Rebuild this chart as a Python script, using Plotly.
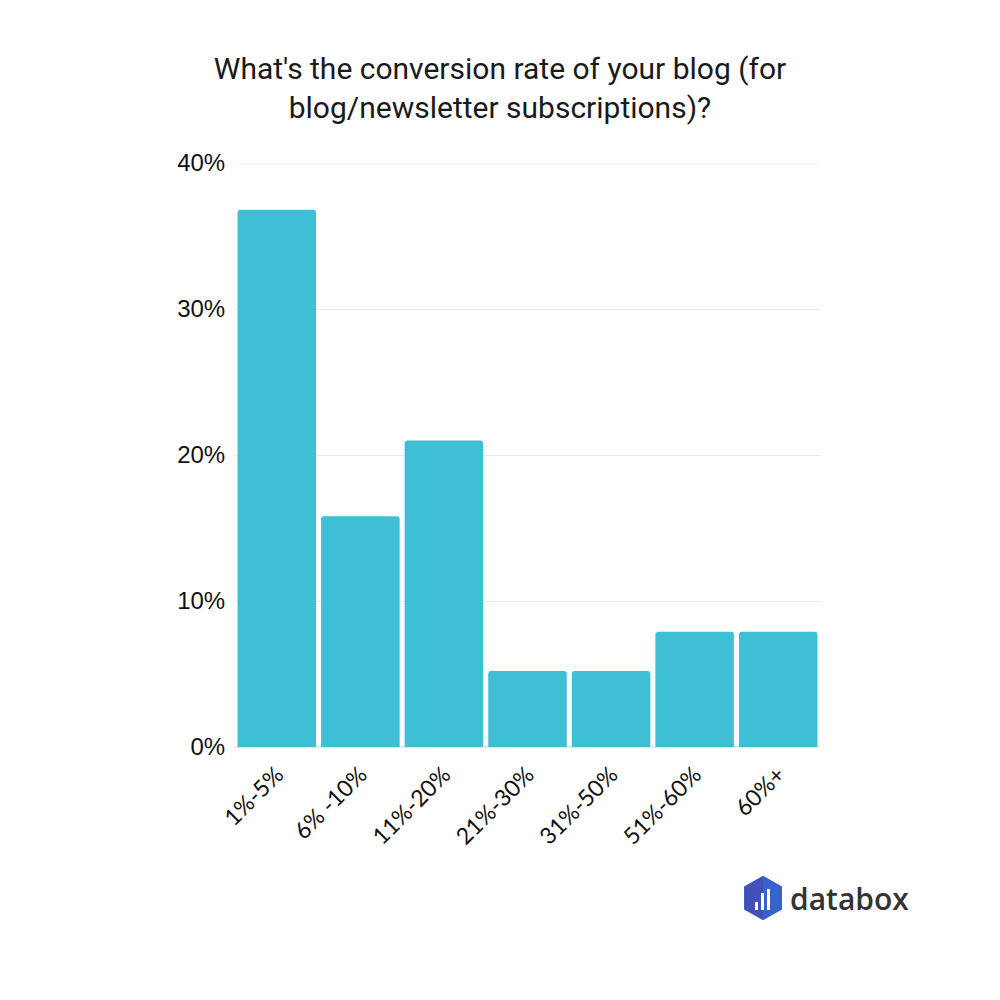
import plotly.graph_objects as go

categories = ["1%-5%", "6% -10%", "11%-20%", "21%-30%", "31%-50%", "51%-60%", "60%+"]
values = [36.8, 15.8, 21.0, 5.2, 5.2, 7.9, 7.9]
tick_vals = [0, 10, 20, 30, 40]
tick_text = ["0%", "10%", "20%", "30%", "40%"]

L, R, T, B = 235, 820, 163, 747

fig = go.Figure(go.Bar(
    x=categories, y=values,
    marker=dict(color="#3EBFD4", line=dict(width=0)),
    hoverinfo="skip",
))

def px(x):
    return (x - L) / (R - L)

def py(y):
    return (B - y) / (B - T)

# databox logo hexagon
hx = [(763, 877), (781, 887), (781, 909), (763, 919), (745, 909), (745, 887)]
path = "M " + " L ".join(f"{px(a):.5f},{py(b):.5f}" for a, b in hx) + " Z"
shapes = [dict(type="path", xref="paper", yref="paper", path=path,
               fillcolor="#3563C9", line=dict(color="#3563C9", width=2))]
hxl = [(763, 877), (745, 887), (745, 909), (763, 919)]
pathl = "M " + " L ".join(f"{px(a):.5f},{py(b):.5f}" for a, b in hxl) + " Z"
shapes.append(dict(type="path", xref="paper", yref="paper", path=pathl,
                   fillcolor="#4450B8", line=dict(width=0)))
for (x0, y0) in [(755, 902), (761, 893), (767, 889)]:
    shapes.append(dict(type="rect", xref="paper", yref="paper",
                       x0=px(x0), x1=px(x0 + 3), y0=py(910), y1=py(y0),
                       fillcolor="white", line=dict(width=0)))
shapes.append(dict(type="line", xref="paper", yref="y", x0=0, x1=1, y0=40, y1=40,
                   line=dict(color="#E8E8E8", width=1), layer="below"))

fig.update_layout(
    width=1000, height=1000,
    paper_bgcolor="white", plot_bgcolor="white",
    margin=dict(l=L, r=1000 - R, t=T, b=1000 - B, pad=0),
    bargap=0.06,
    barcornerradius=3,
    showlegend=False,
    title=dict(
        text="What's the conversion rate of your blog (for<br>blog/newsletter subscriptions)?",
        x=0.5, xref="container", xanchor="center",
        y=1 - 79 / 1000, yanchor="middle",
        font=dict(family="Roboto", size=30, color="#1a1a1a"),
    ),
    xaxis=dict(
        tickangle=-45, showgrid=False, showline=False, zeroline=False,
        tickfont=dict(family="Lato", size=23, color="#111"),
        ticks="outside", ticklen=4, tickcolor="white", fixedrange=True,
    ),
    yaxis=dict(
        range=[0, 40], tickvals=tick_vals, ticktext=tick_text,
        showgrid=True, gridcolor="#E8E8E8", gridwidth=1,
        zeroline=True, zerolinecolor="#E8E8E8", showline=False,
        tickfont=dict(family="Liberation Sans", size=24, color="#111"),
        ticks="outside", ticklen=4, tickcolor="white", fixedrange=True,
    ),
    shapes=shapes,
    annotations=[dict(
        text="databox", xref="paper", yref="paper",
        x=px(788), y=py(898), xanchor="left", yanchor="middle",
        showarrow=False,
        font=dict(family="Open Sans", size=30, color="#333333", weight=600),
    )],
)

fig.write_html("out.html", config={"displayModeBar": False},
               post_script="document.body.style.margin='0';")
